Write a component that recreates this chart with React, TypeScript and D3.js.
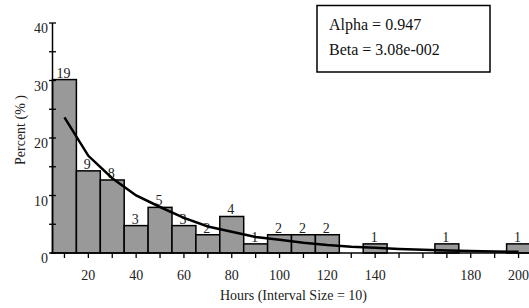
import { useEffect, useRef } from 'react';
import * as d3 from 'd3';

// bin centers (hours), interval size 10
const binCenters = [10, 20, 30, 40, 50, 60, 70, 80, 90, 100, 110, 120, 130, 140, 150, 160, 170, 180, 190, 200];
const counts = [19, 9, 8, 3, 5, 3, 2, 4, 1, 2, 2, 2, 0, 1, 0, 0, 1, 0, 0, 1];
// fitted curve (percent) at each bin center
const curvePct = [23.6, 16.9, 13.0, 10.0, 8.0, 6.1, 4.6, 3.7, 2.8, 2.3, 1.8, 1.4, 1.1, 0.9, 0.7, 0.55, 0.43, 0.34, 0.27, 0.21];
const xTickLabels = [20, 40, 60, 80, 100, 120, 140, 180, 200];
const yTicks = [0, 5, 10, 15, 20, 25, 30, 35, 40];
const yLabels = [0, 10, 20, 30, 40];
const legendLines = ['Alpha = 0.947', 'Beta = 3.08e-002'];

const W = 529;
const H = 308;
const FONT = '"Liberation Serif", "Times New Roman", serif';

export default function App() {
  const ref = useRef<SVGSVGElement>(null);

  useEffect(() => {
    if (!ref.current) return;
    const svg = d3.select(ref.current);
    svg.selectAll('*').remove();

    const total = d3.sum(counts);
    const pct = counts.map(c => (c / total) * 100);

    const x = d3.scaleLinear().domain([5, 205]).range([52.5, 530.5]);
    const y = d3.scaleLinear().domain([0, 40]).range([253, 23]);
    const half = 5;

    // bars
    svg.append('g')
      .selectAll('rect')
      .data(binCenters.map((c, i) => ({ c, p: pct[i], n: counts[i] })).filter(d => d.n > 0))
      .enter().append('rect')
      .attr('x', d => x(d.c - half))
      .attr('y', d => y(d.p))
      .attr('width', d => x(d.c + half) - x(d.c - half))
      .attr('height', d => y(0) - y(d.p))
      .attr('fill', '#999999')
      .attr('stroke', '#000')
      .attr('stroke-width', 1.5);

    // count labels
    svg.append('g')
      .selectAll('text')
      .data(binCenters.map((c, i) => ({ c, p: pct[i], n: counts[i] })).filter(d => d.n > 0))
      .enter().append('text')
      .attr('x', d => x(d.c) - 1)
      .attr('y', d => y(d.p) - 2)
      .attr('text-anchor', 'middle')
      .attr('font-family', FONT)
      .attr('font-size', 14)
      .attr('fill', '#222')
      .text(d => d.n);

    // fitted curve
    const line = d3.line<number>()
      .x((_, i) => x(binCenters[i]))
      .y(d => y(d));
    svg.append('path')
      .attr('d', line(curvePct))
      .attr('fill', 'none')
      .attr('stroke', '#000')
      .attr('stroke-width', 2.5);

    // y axis
    const ya = svg.append('g');
    ya.append('line')
      .attr('x1', x(5)).attr('x2', x(5))
      .attr('y1', y(40)).attr('y2', y(0))
      .attr('stroke', '#000').attr('stroke-width', 1.5);
    ya.selectAll('line.tick')
      .data(yTicks)
      .enter().append('line')
      .attr('class', 'tick')
      .attr('x1', x(5) - 3.5).attr('x2', x(5) + 3.5)
      .attr('y1', d => y(d)).attr('y2', d => y(d))
      .attr('stroke', '#000').attr('stroke-width', 1.3);
    ya.selectAll('text')
      .data(yLabels)
      .enter().append('text')
      .attr('x', 48)
      .attr('y', d => y(d) + 10)
      .attr('text-anchor', 'end')
      .attr('font-family', FONT)
      .attr('font-size', 14)
      .attr('fill', '#222')
      .text(d => d);

    // x axis
    const xa = svg.append('g');
    xa.append('line')
      .attr('x1', 50.5).attr('x2', W)
      .attr('y1', y(0)).attr('y2', y(0))
      .attr('stroke', '#000').attr('stroke-width', 1.5);
    xa.selectAll('line.tick')
      .data(binCenters)
      .enter().append('line')
      .attr('class', 'tick')
      .attr('x1', d => x(d)).attr('x2', d => x(d))
      .attr('y1', y(0)).attr('y2', y(0) + 5)
      .attr('stroke', '#000').attr('stroke-width', 1.3);
    xa.selectAll('text')
      .data(xTickLabels)
      .enter().append('text')
      .attr('x', d => x(d))
      .attr('y', 280)
      .attr('text-anchor', 'middle')
      .attr('font-family', FONT)
      .attr('font-size', 14)
      .attr('fill', '#222')
      .text(d => d);

    // axis titles
    svg.append('text')
      .attr('x', 293.5)
      .attr('y', 300)
      .attr('text-anchor', 'middle')
      .attr('font-family', FONT)
      .attr('font-size', 14)
      .attr('fill', '#222')
      .text('Hours (Interval Size = 10)');
    svg.append('text')
      .attr('transform', 'translate(25,130) rotate(-90)')
      .attr('text-anchor', 'middle')
      .attr('font-family', FONT)
      .attr('font-size', 14)
      .attr('fill', '#222')
      .text('Percent (% )');

    // legend box
    const lg = svg.append('g');
    lg.append('rect')
      .attr('x', 317).attr('y', 5.5)
      .attr('width', 173).attr('height', 66.5)
      .attr('fill', '#fff')
      .attr('stroke', '#000')
      .attr('stroke-width', 1.5);
    lg.selectAll('text')
      .data(legendLines)
      .enter().append('text')
      .attr('x', 329)
      .attr('y', (_, i) => 29.5 + i * 25.5)
      .attr('font-family', FONT)
      .attr('font-size', 16)
      .attr('fill', '#111')
      .text(d => d);
  }, []);

  return (
    <div style={{ position: 'fixed', left: 0, top: 0, width: W, height: H, background: '#fff' }}>
      <svg ref={ref} width={W} height={H} />
    </div>
  );
}
